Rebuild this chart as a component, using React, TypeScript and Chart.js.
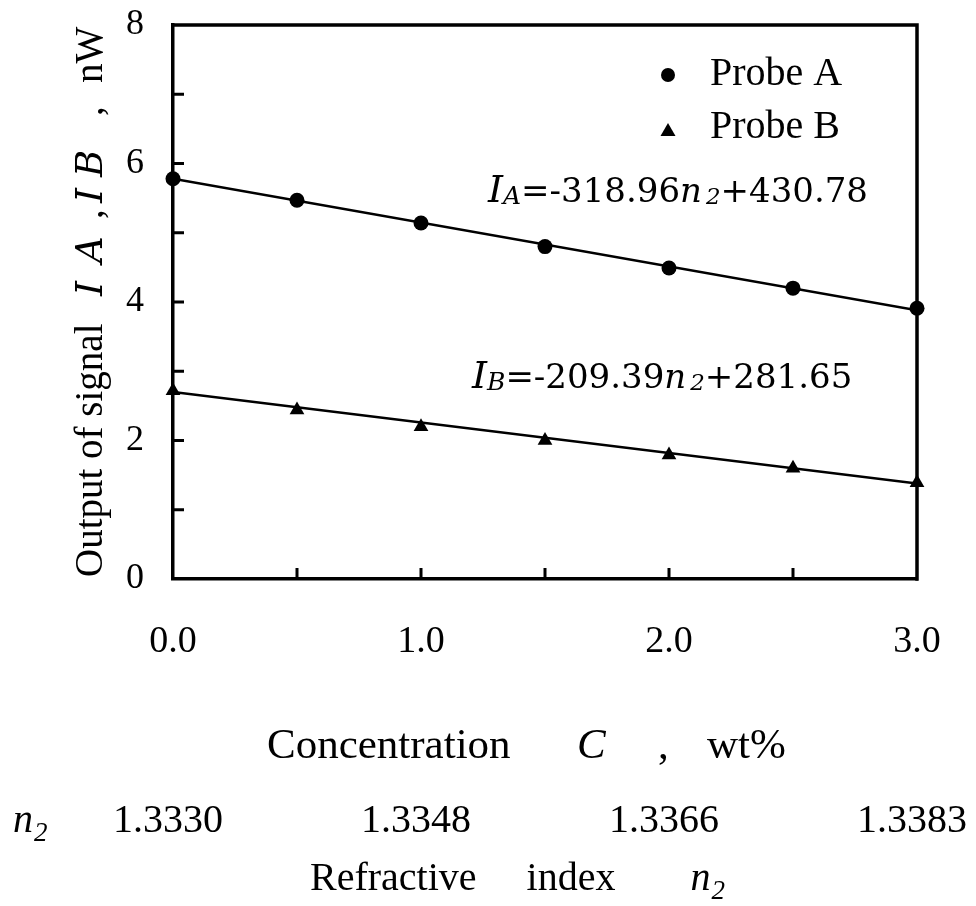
import React, { useEffect, useRef } from "react";
import { Chart, registerables } from "chart.js";

Chart.register(...registerables);

// ---- data ----
const concentration = [0, 0.5, 1, 1.5, 2, 2.5, 3];
const probeA = [5.78, 5.47, 5.14, 4.8, 4.49, 4.2, 3.91];
const probeB = [2.72, 2.44, 2.2, 2.0, 1.79, 1.6, 1.39];
const fitX = [0, 3];
const fitA = [5.78, 3.88];
const fitB = [2.7, 1.38];
const n2Positions = [0, 1, 2, 3];
const n2Labels = ["1.3330", "1.3348", "1.3366", "1.3383"];
const innerXTicks = [0.5, 1, 1.5, 2, 2.5];
const innerYTicks = [1, 2, 3, 4, 5, 6, 7];
const legendLabels = ["Probe A", "Probe B"];

const SERIF = '"Liberation Serif", "Times New Roman", serif';
const CENT = '"DejaVu Serif", serif';

type Seg = { t: string; font: string; dy?: number; gap?: number; at?: number };

function richWidth(ctx: CanvasRenderingContext2D, segs: Seg[]) {
  let w = 0;
  for (const s of segs) {
    ctx.font = s.font;
    w += (s.gap || 0) + ctx.measureText(s.t).width;
  }
  return w;
}

function drawRich(
  ctx: CanvasRenderingContext2D,
  segs: Seg[],
  x: number,
  y: number,
  align: "left" | "center" = "left"
) {
  let cx = align === "center" ? x - richWidth(ctx, segs) / 2 : x;
  ctx.textAlign = "left";
  ctx.textBaseline = "alphabetic";
  for (const s of segs) {
    if (s.at !== undefined) cx = x + s.at;
    cx += s.gap || 0;
    ctx.font = s.font;
    ctx.fillText(s.t, cx, y + (s.dy || 0));
    cx += ctx.measureText(s.t).width;
  }
}

const decorPlugin = {
  id: "decor",
  beforeDraw(chart: any) {
    const ctx = chart.ctx;
    ctx.save();
    ctx.fillStyle = "#fff";
    ctx.fillRect(0, 0, chart.width, chart.height);
    ctx.restore();
  },
  afterDatasetsDraw(chart: any) {
    const ctx: CanvasRenderingContext2D = chart.ctx;
    const { left, right, top, bottom } = chart.chartArea;
    const xs = chart.scales.x;
    const ys = chart.scales.y;
    ctx.save();
    ctx.strokeStyle = "#000";
    ctx.fillStyle = "#000";
    ctx.lineCap = "butt";

    // top and right frame lines
    ctx.lineWidth = 3.5;
    ctx.beginPath();
    ctx.moveTo(left - 1.75, top);
    ctx.lineTo(right, top);
    ctx.lineTo(right, bottom + 1.75);
    ctx.stroke();

    // inward ticks
    ctx.lineWidth = 3;
    ctx.beginPath();
    for (const v of innerYTicks) {
      const py = ys.getPixelForValue(v);
      ctx.moveTo(left, py);
      ctx.lineTo(left + 11, py);
    }
    for (const v of innerXTicks) {
      const px = xs.getPixelForValue(v);
      ctx.moveTo(px, bottom);
      ctx.lineTo(px, bottom - 11);
    }
    ctx.stroke();

    // legend
    const lx = left + 495;
    const ly1 = top + 50;
    const ly2 = top + 106;
    ctx.beginPath();
    ctx.arc(lx, ly1, 7, 0, Math.PI * 2);
    ctx.fill();
    ctx.beginPath();
    ctx.moveTo(lx, ly2 - 8);
    ctx.lineTo(lx + 7.5, ly2 + 5);
    ctx.lineTo(lx - 7.5, ly2 + 5);
    ctx.closePath();
    ctx.fill();
    ctx.font = `40px ${SERIF}`;
    ctx.textAlign = "left";
    ctx.textBaseline = "alphabetic";
    ctx.fillText(legendLabels[0], lx + 42, ly1 + 10);
    ctx.fillText(legendLabels[1], lx + 42, ly2 + 7);

    // equations
    const eqA: Seg[] = [
      { t: "I", font: `italic 38px ${CENT}` },
      { t: "A", font: `italic 25px ${CENT}`, dy: 2 },
      { t: "=-318.96", font: `34px ${CENT}` },
      { t: "n", font: `italic 34px ${CENT}` },
      { t: "2", font: `italic 23px ${CENT}`, dy: 2, gap: 4 },
      { t: "+430.78", font: `34px ${CENT}` },
    ];
    const eqB: Seg[] = [
      { t: "I", font: `italic 38px ${CENT}` },
      { t: "B", font: `italic 25px ${CENT}`, dy: 2 },
      { t: "=-209.39", font: `34px ${CENT}` },
      { t: "n", font: `italic 34px ${CENT}` },
      { t: "2", font: `italic 23px ${CENT}`, dy: 2, gap: 4 },
      { t: "+281.65", font: `34px ${CENT}` },
    ];
    drawRich(ctx, eqA, left + 315, top + 177);
    drawRich(ctx, eqB, left + 299, top + 363);

    // y title (rotated)
    ctx.save();
    ctx.translate(102, 577);
    ctx.rotate(-Math.PI / 2);
    const yTitle: Seg[] = [
      { t: "Output of signal", font: `39px ${SERIF}`, at: 0 },
      { t: "I", font: `italic 38px ${CENT}`, at: 281 },
      { t: "A", font: `italic 37px ${CENT}`, at: 314 },
      { t: ",", font: `39px ${SERIF}`, at: 358 },
      { t: "I", font: `italic 38px ${CENT}`, at: 374 },
      { t: "B", font: `italic 37px ${CENT}`, at: 400 },
      { t: ",", font: `39px ${SERIF}`, at: 461 },
      { t: "nW", font: `39px ${SERIF}`, at: 494 },
    ];
    drawRich(ctx, yTitle, 0, 0);
    ctx.restore();

    // x title: Concentration C , wt%
    const xTitle: Seg[] = [
      { t: "Concentration", font: `43px ${SERIF}`, at: 0 },
      { t: "C", font: `italic 43px ${SERIF}`, at: 310 },
      { t: ",", font: `43px ${SERIF}`, at: 391 },
      { t: "wt%", font: `43px ${SERIF}`, at: 440 },
    ];
    drawRich(ctx, xTitle, 267, 758);

    // refractive index row
    drawRich(
      ctx,
      [
        { t: "n", font: `italic 40px ${SERIF}` },
        { t: "2", font: `italic 27px ${SERIF}`, dy: 9, gap: 1 },
      ],
      13,
      832
    );
    ctx.font = `40px ${SERIF}`;
    ctx.textAlign = "center";
    n2Positions.forEach((p, i) => {
      ctx.fillText(n2Labels[i], xs.getPixelForValue(p) - 5, 832);
    });

    drawRich(
      ctx,
      [
        { t: "Refractive", font: `40px ${SERIF}` },
        { t: "index", font: `40px ${SERIF}`, gap: 50 },
        { t: "n", font: `italic 40px ${SERIF}`, gap: 75 },
        { t: "2", font: `italic 27px ${SERIF}`, dy: 9, gap: 1 },
      ],
      310,
      890
    );

    ctx.restore();
  },
};

export default function App() {
  const ref = useRef<HTMLCanvasElement | null>(null);
  useEffect(() => {
    if (!ref.current) return;
    const pts = (ys: number[]) => concentration.map((c, i) => ({ x: c, y: ys[i] }));
    const line = (ys: number[]) => fitX.map((c, i) => ({ x: c, y: ys[i] }));
    const chart = new Chart(ref.current, {
      type: "scatter",
      data: {
        datasets: [
          {
            label: "Probe A",
            data: pts(probeA),
            pointStyle: "circle",
            pointRadius: 7.5,
            backgroundColor: "#000",
            borderColor: "#000",
            borderWidth: 0,
            clip: false,
            order: 0,
          } as any,
          {
            label: "Probe B",
            data: pts(probeB),
            pointStyle: "triangle",
            pointRadius: 8.5,
            backgroundColor: "#000",
            borderColor: "#000",
            borderWidth: 0,
            clip: false,
            order: 0,
          } as any,
          {
            type: "line",
            label: "fit A",
            data: line(fitA),
            borderColor: "#000",
            borderWidth: 2.5,
            pointRadius: 0,
            showLine: true,
            order: 1,
          } as any,
          {
            type: "line",
            label: "fit B",
            data: line(fitB),
            borderColor: "#000",
            borderWidth: 2.5,
            pointRadius: 0,
            showLine: true,
            order: 1,
          } as any,
        ],
      },
      options: {
        animation: false,
        responsive: false,
        devicePixelRatio: 1,
        layout: { padding: { top: 25, right: 59, left: 0, bottom: 0 } },
        plugins: { legend: { display: false }, tooltip: { enabled: false } },
        scales: {
          x: {
            type: "linear",
            min: 0,
            max: 3,
            afterFit: (s: any) => {
              s.height = 327;
              s.paddingLeft = 0;
              s.paddingRight = 0;
            },
            ticks: {
              stepSize: 1,
              color: "#000",
              padding: 40,
              font: { family: SERIF, size: 38 },
              callback: (v: any) => Number(v).toFixed(1),
            },
            grid: { display: false, drawTicks: false },
            border: { display: true, color: "#000", width: 3.5 },
          },
          y: {
            type: "linear",
            min: 0,
            max: 8,
            afterFit: (s: any) => {
              s.width = 173;
              s.paddingTop = 0;
              s.paddingBottom = 0;
            },
            ticks: {
              stepSize: 2,
              color: "#000",
              padding: 29,
              font: { family: SERIF, size: 36 },
            },
            grid: { display: false, drawTicks: false },
            border: { display: true, color: "#000", width: 3.5 },
          },
        },
      },
      plugins: [decorPlugin],
    } as any);
    return () => chart.destroy();
  }, []);
  return (
    <div style={{ position: "absolute", left: 0, top: 0, width: 976, height: 906 }}>
      <canvas ref={ref} width={976} height={906} style={{ width: 976, height: 906 }} />
    </div>
  );
}
